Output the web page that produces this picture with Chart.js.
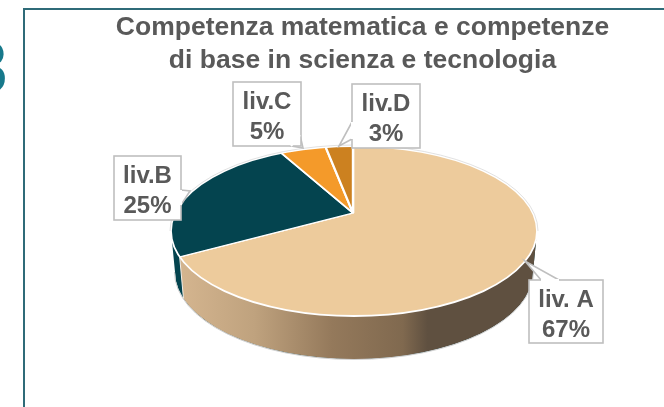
<!DOCTYPE html>
<html lang="it">
<head>
<meta charset="utf-8">
<title>Competenza matematica</title>
<script src="https://cdn.jsdelivr.net/npm/chart.js@4/dist/chart.umd.js"></script>
<style>
html,body{margin:0;padding:0;background:#fff;overflow:hidden}
#stage{position:relative;width:664px;height:407px;overflow:hidden}
#frame{position:absolute;left:22.5px;top:7.5px;width:660px;height:420px;border-left:2px solid #2f6b78;border-top:2px solid #2f6b78}
#slide{position:absolute;left:-34px;top:28px;font:bold 74px "Liberation Sans",Arial,sans-serif;color:#17798b;line-height:80px}
canvas{position:absolute;left:0;top:0}
</style>
</head>
<body>
<div id="stage">
<div id="slide">8</div>
<div id="frame"></div>
<canvas id="c" width="664" height="407"></canvas>
</div>
<script>
const categories = ["liv. A", "liv.B", "liv.C", "liv.D"];
const values = [67, 25, 5, 3];
const titleLines = ["Competenza matematica e competenze", "di base in scienza e tecnologia"];
const sliceColors = ["#edcb9c", "#04444f", "#f49a2a", "#cc8120"];

/* pie drawing geometry: the tilted disc is seen in perspective, so the apex sits above the ellipse centre */
const APEX = {x: 353, y: 213}, TILT = 0.46;
const TOP = {x: 354, y: 231, rx: 183, ry: 85};
const BOTTOM = {x: 354, y: 272, rx: 179, ry: 87};
const TEXT = "#595959", EDGE = "#bfbfbf";

/* callout boxes: box rectangle and pointer polygon, in the same order as categories */
const callouts = [
  {box: [529, 280, 74, 63], ptr: [[541, 280], [525, 261], [559, 280]]},
  {box: [114, 156, 67, 64], ptr: [[181, 190], [190, 191], [181, 205]]},
  {box: [233, 82, 68, 64], ptr: [[300, 135], [303, 148], [291, 146]]},
  {box: [352, 84, 68, 64], ptr: [[352, 122], [339, 146], [352, 139]]}
];

/* Slices are the library's own arcs, seen through the tilt and cut by the disc's rim. */
const baseArcDraw = Chart.ArcElement.prototype.draw;
Chart.ArcElement.prototype.draw = function (ctx) {
  ctx.save();
  ctx.beginPath();
  ctx.ellipse(TOP.x, TOP.y, TOP.rx, TOP.ry, 0, 0, Math.PI * 2);
  ctx.clip();
  ctx.translate(APEX.x, APEX.y);
  ctx.scale(1, TILT);
  ctx.translate(-this.x, -this.y);
  baseArcDraw.call(this, ctx);
  ctx.restore();
};

/* where a slice boundary angle meets the rim, as an ellipse parameter */
function rimParam(angle) {
  const dx = Math.cos(angle), dy = TILT * Math.sin(angle);
  const ox = (APEX.x - TOP.x) / TOP.rx, oy = (APEX.y - TOP.y) / TOP.ry;
  const ux = dx / TOP.rx, uy = dy / TOP.ry;
  const a = ux * ux + uy * uy, b = 2 * (ox * ux + oy * uy), c = ox * ox + oy * oy - 1;
  const t = (-b + Math.sqrt(b * b - 4 * a * c)) / (2 * a);
  return Math.atan2(oy + uy * t, ox + ux * t);
}

function wallPath(ctx, from, to) {
  ctx.beginPath();
  ctx.ellipse(TOP.x, TOP.y, TOP.rx, TOP.ry, 0, from, to);
  ctx.ellipse(BOTTOM.x, BOTTOM.y, BOTTOM.rx, BOTTOM.ry, 0, to, from, true);
  ctx.closePath();
}

const pie3d = {
  id: "pie3d",
  beforeDatasetsDraw(chart) {
    const ctx = chart.ctx, arcs = chart.getDatasetMeta(0).data;
    let theta = rimParam(arcs[0].endAngle);
    if (theta < 0) theta += Math.PI * 2;
    ctx.save();
    wallPath(ctx, 0, Math.PI);
    ctx.fillStyle = sliceColors[1];
    ctx.fill();
    const g = ctx.createLinearGradient(184, 0, 537, 0);
    [[0, "#d3b48e"], [0.2, "#bfa27e"], [0.42, "#94795b"], [0.62, "#80694f"], [0.69, "#5f5040"], [1, "#5f5040"]]
      .forEach(s => g.addColorStop(s[0], s[1]));
    wallPath(ctx, 0, theta);
    ctx.fillStyle = g;
    ctx.fill();
    ctx.strokeStyle = "#f4f0ea";
    ctx.lineWidth = 1;
    ctx.beginPath();
    ctx.moveTo(TOP.x + TOP.rx * Math.cos(theta), TOP.y + TOP.ry * Math.sin(theta));
    ctx.lineTo(BOTTOM.x + BOTTOM.rx * Math.cos(theta), BOTTOM.y + BOTTOM.ry * Math.sin(theta));
    ctx.stroke();
    ctx.strokeStyle = "#cfcfcf";
    ctx.beginPath();
    ctx.ellipse(BOTTOM.x, BOTTOM.y, BOTTOM.rx + 0.5, BOTTOM.ry + 0.5, 0, 0, Math.PI);
    ctx.stroke();
    ctx.restore();
  },
  afterDatasetsDraw(chart) {
    const ctx = chart.ctx;
    ctx.save();
    ctx.strokeStyle = "#ffffff";
    ctx.lineWidth = 1.8;
    ctx.beginPath();
    ctx.ellipse(TOP.x, TOP.y, TOP.rx, TOP.ry, 0, 0, Math.PI * 2);
    ctx.stroke();
    ctx.strokeStyle = "#d4d4d4";
    ctx.lineWidth = 0.7;
    ctx.beginPath();
    ctx.ellipse(TOP.x, TOP.y, TOP.rx + 1, TOP.ry + 1, 0, Math.PI, Math.PI * 2);
    ctx.stroke();

    categories.forEach((name, i) => {
      const c = callouts[i], [x, y, w, h] = c.box;
      ctx.lineWidth = 1.6;
      ctx.strokeStyle = EDGE;
      ctx.fillStyle = "#ffffff";
      ctx.beginPath();
      ctx.moveTo(c.ptr[0][0], c.ptr[0][1]);
      ctx.lineTo(c.ptr[1][0], c.ptr[1][1]);
      ctx.lineTo(c.ptr[2][0], c.ptr[2][1]);
      ctx.closePath();
      ctx.fill();
      ctx.stroke();
      ctx.fillRect(x, y, w, h);
      ctx.strokeRect(x, y, w, h);
      ctx.fillRect(x + 1, y + 1, w - 2, h - 2);
      /* open the box edge where the pointer joins it */
      ctx.beginPath();
      ctx.moveTo(c.ptr[0][0], c.ptr[0][1]);
      ctx.lineTo(c.ptr[2][0], c.ptr[2][1]);
      ctx.strokeStyle = "#ffffff";
      ctx.lineWidth = 2;
      ctx.stroke();
      ctx.fillStyle = TEXT;
      ctx.font = 'bold 24px "Liberation Sans", Arial, sans-serif';
      ctx.textAlign = "center";
      ctx.textBaseline = "alphabetic";
      ctx.fillText(name, x + w / 2, y + 27);
      ctx.fillText(values[i] + "%", x + w / 2, y + 57);
    });
    ctx.restore();
  }
};

new Chart(document.getElementById("c"), {
  type: "pie",
  data: {
    labels: categories,
    datasets: [{
      data: values,
      backgroundColor: sliceColors,
      borderColor: "#ffffff",
      borderWidth: 2.4,
      clip: false
    }]
  },
  options: {
    responsive: false,
    animation: false,
    radius: 250,
    layout: {padding: {left: 61, top: 0, right: 0, bottom: 0}},
    plugins: {
      legend: {display: false},
      tooltip: {enabled: false},
      title: {
        display: true,
        text: titleLines,
        color: TEXT,
        font: {family: '"Liberation Sans", Arial, sans-serif', size: 26.5, weight: "bold", lineHeight: 1.24},
        padding: {top: 11.5, bottom: 4}
      }
    }
  },
  plugins: [pie3d]
});
</script>
</body>
</html>
